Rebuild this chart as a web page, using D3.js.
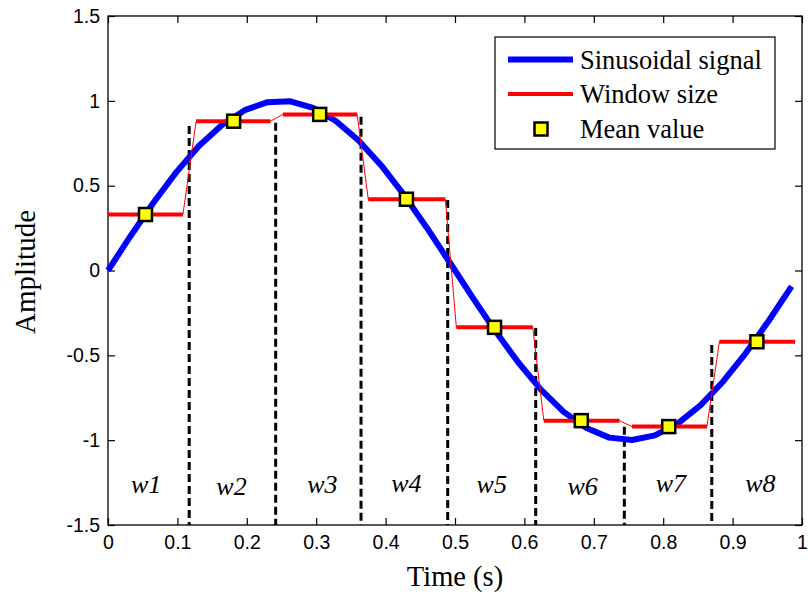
<!DOCTYPE html>
<html>
<head>
<meta charset="utf-8">
<script src="https://cdn.jsdelivr.net/npm/d3@7"></script>
<style>
  body { margin: 0; background: #fff; }
  svg { display: block; }
</style>
</head>
<body>
<svg id="mainsvg" width="808" height="594"></svg>
<script>
// sinusoidal signal
let timeSamples = [0, 0.0328, 0.0657, 0.0985, 0.1313, 0.1642, 0.197, 0.2298, 0.2626, 0.2955,
    0.3283, 0.3611, 0.394, 0.4268, 0.4596, 0.4925, 0.5253, 0.5581, 0.591, 0.6238,
    0.6566, 0.6895, 0.7223, 0.7551, 0.788, 0.8208, 0.8536, 0.8864, 0.9193, 0.9521, 0.985];
let signalValues = [0, 0.205, 0.401, 0.58, 0.735, 0.858, 0.945, 0.992, 0.997, 0.959,
    0.881, 0.766, 0.618, 0.444, 0.251, 0.047, -0.158, -0.357, -0.541, -0.702,
    -0.833, -0.928, -0.985, -0.999, -0.972, -0.903, -0.795, -0.654, -0.485, -0.296, -0.094];

// windows
let windowStart = [0, 0.127, 0.252, 0.375, 0.502, 0.628, 0.755, 0.881];
let windowEnd = [0.108, 0.234, 0.359, 0.486, 0.612, 0.737, 0.863, 0.99];
let meanTime = [0.054, 0.181, 0.305, 0.43, 0.557, 0.682, 0.808, 0.935];
let meanValue = [0.33, 0.88, 0.92, 0.42, -0.335, -0.885, -0.92, -0.42];

// dashed window boundaries
let boundaryTime = [0.117, 0.2416, 0.3646, 0.4895, 0.6163, 0.744, 0.87];
let boundaryTop = [0.852, 0.871, 0.906, 0.415, -0.339, -0.921, -0.439];

let windowLabels = ["w1", "w2", "w3", "w4", "w5", "w6", "w7", "w8"];
let labelTime = [0.055, 0.178, 0.309, 0.43, 0.553, 0.684, 0.811, 0.94];
let labelValue = [-1.313, -1.323, -1.313, -1.304, -1.313, -1.323, -1.304, -1.304];

let xTicks = [0, 0.1, 0.2, 0.3, 0.4, 0.5, 0.6, 0.7, 0.8, 0.9, 1];
let yTicks = [-1.5, -1, -0.5, 0, 0.5, 1, 1.5];

let legendItems = ["Sinusoidal signal", "Window size", "Mean value"];

let svg = d3.select("#mainsvg");
let plotLeft = 108, plotRight = 802, plotTop = 16, plotBottom = 525;
let tickLen = 7;

let x = d3.scaleLinear().domain([0, 1]).range([plotLeft, plotRight]);
let y = d3.scaleLinear().domain([-1.5, 1.5]).range([plotBottom, plotTop]);

// axes with inner ticks on all four sides
let fmt = d => String(d);
let axisBottom = d3.axisBottom(x).tickValues(xTicks).tickSizeInner(-tickLen).tickSizeOuter(0).tickPadding(10).tickFormat(fmt);
let axisLeft = d3.axisLeft(y).tickValues(yTicks).tickSizeInner(-tickLen).tickSizeOuter(0).tickPadding(8).tickFormat(fmt);
let axisTop = d3.axisTop(x).tickValues(xTicks).tickSizeInner(-tickLen).tickSizeOuter(0).tickFormat("");
let axisRight = d3.axisRight(y).tickValues(yTicks).tickSizeInner(-tickLen).tickSizeOuter(0).tickFormat("");

let styleAxis = function(g) {
    g.select(".domain").remove();
    g.selectAll(".tick line").attr("stroke", "#000").attr("stroke-width", 1.2);
    g.selectAll(".tick text")
        .attr("fill", "#000")
        .style("font-family", "'Liberation Sans', Arial, sans-serif")
        .style("font-size", "19.5px");
};

svg.append("g").attr("transform", "translate(0," + plotBottom + ")").call(axisBottom).call(styleAxis);
svg.append("g").attr("transform", "translate(" + plotLeft + ",0)").call(axisLeft).call(styleAxis);
svg.append("g").attr("transform", "translate(0," + plotTop + ")").call(axisTop).call(styleAxis);
svg.append("g").attr("transform", "translate(" + plotRight + ",0)").call(axisRight).call(styleAxis);

// box
svg.append("rect")
    .attr("x", plotLeft).attr("y", plotTop)
    .attr("width", plotRight - plotLeft).attr("height", plotBottom - plotTop)
    .attr("fill", "none").attr("stroke", "#000").attr("stroke-width", 1.3);

// dashed boundaries
svg.append("g").selectAll("line").data(boundaryTime).enter()
    .append("line")
    .attr("x1", d => x(d)).attr("x2", d => x(d))
    .attr("y1", (d, i) => y(boundaryTop[i])).attr("y2", y(-1.5))
    .attr("stroke", "#000").attr("stroke-width", 3)
    .attr("stroke-dasharray", "8,4");

// blue signal
let signal = timeSamples.map((t, i) => [t, signalValues[i]]);
svg.append("path")
    .datum(signal)
    .attr("d", d3.line().x(d => x(d[0])).y(d => y(d[1])))
    .attr("fill", "none").attr("stroke", "#0000ff").attr("stroke-width", 6)
    .attr("stroke-linejoin", "round");

// thin red connection through all windows
let stair = [];
windowStart.forEach((s, i) => {
    stair.push([s, meanValue[i]]);
    stair.push([windowEnd[i], meanValue[i]]);
});
svg.append("path")
    .datum(stair)
    .attr("d", d3.line().x(d => x(d[0])).y(d => y(d[1])))
    .attr("fill", "none").attr("stroke", "#ff0000").attr("stroke-width", 1);

// thick red window segments
svg.append("g").selectAll("line").data(meanValue).enter()
    .append("line")
    .attr("x1", (d, i) => x(windowStart[i])).attr("x2", (d, i) => x(windowEnd[i]))
    .attr("y1", d => y(d)).attr("y2", d => y(d))
    .attr("stroke", "#ff0000").attr("stroke-width", 4);

// mean markers
let mSize = 13;
svg.append("g").selectAll("rect").data(meanValue).enter()
    .append("rect")
    .attr("x", (d, i) => x(meanTime[i]) - mSize / 2)
    .attr("y", d => y(d) - mSize / 2)
    .attr("width", mSize).attr("height", mSize)
    .attr("fill", "#ffff00").attr("stroke", "#000").attr("stroke-width", 2.5);

// window labels
svg.append("g").selectAll("text").data(windowLabels).enter()
    .append("text")
    .attr("x", (d, i) => x(labelTime[i]))
    .attr("y", (d, i) => y(labelValue[i]))
    .attr("text-anchor", "middle")
    .style("font-family", "'Liberation Serif', 'Times New Roman', serif")
    .style("font-style", "italic")
    .style("font-size", "26px")
    .text(d => d);

// axis titles
svg.append("text")
    .attr("x", 455).attr("y", 586)
    .attr("text-anchor", "middle")
    .style("font-family", "'Liberation Serif', 'Times New Roman', serif")
    .style("font-size", "28.5px")
    .text("Time (s)");
svg.append("text")
    .attr("transform", "translate(35,272) rotate(-90)")
    .attr("text-anchor", "middle")
    .style("font-family", "'Liberation Serif', 'Times New Roman', serif")
    .style("font-size", "29px")
    .text("Amplitude");

// legend
let lg = svg.append("g");
lg.append("rect")
    .attr("x", 495).attr("y", 37).attr("width", 280).attr("height", 112)
    .attr("fill", "#fff").attr("stroke", "#000").attr("stroke-width", 1.2);
let rowY = [59.5, 94, 129];
lg.append("line").attr("x1", 508).attr("x2", 573).attr("y1", rowY[0]).attr("y2", rowY[0])
    .attr("stroke", "#0000ff").attr("stroke-width", 6);
lg.append("line").attr("x1", 508).attr("x2", 573).attr("y1", rowY[1]).attr("y2", rowY[1])
    .attr("stroke", "#ff0000").attr("stroke-width", 4);
lg.append("rect").attr("x", 541 - mSize / 2).attr("y", rowY[2] - mSize / 2)
    .attr("width", mSize).attr("height", mSize)
    .attr("fill", "#ffff00").attr("stroke", "#000").attr("stroke-width", 2.5);
lg.selectAll("text.leg").data(legendItems).enter()
    .append("text")
    .attr("class", "leg")
    .attr("x", 580)
    .attr("y", (d, i) => rowY[i] + 9)
    .style("font-family", "'Liberation Serif', 'Times New Roman', serif")
    .style("font-size", "26.5px")
    .text(d => d);
</script>
</body>
</html>
